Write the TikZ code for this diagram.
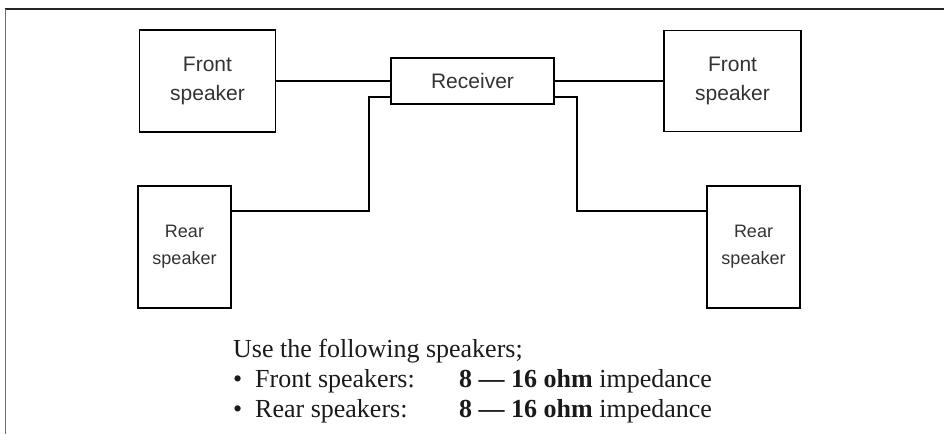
\documentclass[tikz,border=0pt]{standalone}
\usepackage{fontspec}
\setmainfont{Liberation Serif}
\newfontfamily\boxfont{Liberation Sans}
\definecolor{boxtext}{HTML}{333333}
\definecolor{bodytext}{HTML}{1A1A1A}
\definecolor{framegray}{HTML}{6E6E6E}
\begin{document}
\begin{tikzpicture}[x=1pt,y=-1pt,
  spk/.style={draw=black,line width=1.5pt,rectangle,inner sep=0pt,align=center,text=boxtext},
  bigbox/.style={spk,font=\boxfont\fontsize{21}{29}\selectfont},
  smallbox/.style={spk,font=\boxfont\fontsize{18}{27}\selectfont},
  wire/.style={draw=black,line width=1.4pt},
  note/.style={anchor=base west,inner sep=0pt,text=bodytext,font=\fontsize{26}{30}\selectfont}]
\useasboundingbox (0,0) rectangle (944,434);
% frame
\draw[line width=1.6pt,black!85] (4.5,9) -- (944,9);
\draw[line width=1.6pt,framegray] (5.5,9) -- (5.5,434);
% boxes
\node[bigbox,minimum width=136pt,minimum height=102pt] (fl) at (207.5,81) {Front\\speaker};
\node[bigbox,minimum width=137pt,minimum height=101pt] (fr) at (732.5,81) {Front\\speaker};
\node[smallbox,minimum width=93pt,minimum height=122pt] (rl) at (184.5,247) {Rear\\speaker};
\node[smallbox,minimum width=93pt,minimum height=122pt] (rr) at (753.5,247) {Rear\\speaker};
\node[bigbox,minimum width=163pt,minimum height=46pt] (rcv) at (472.5,81) {Receiver};
% wires
\coordinate (lj) at (369,97);
\coordinate (rj) at (577,97);
\draw[wire] (fl.east) -- (rcv.west);
\draw[wire] (fr.west) -- (rcv.east);
\draw[wire] (rl.east |- 0,211) -| (lj) -- (lj -| rcv.west);
\draw[wire] (rr.west |- 0,211) -| (rj) -- (rj -| rcv.east);
% notes
\node[note] (n0) at (233,357) {Use the following speakers;};
\node[note] (b1) at (233,387) {\textbullet};
\node[note] (l1) at (255,387) {Front speakers:};
\node[note] (v1) at (459,387) {\textbf{8 — 16 ohm} impedance};
\node[note] (b2) at (233,417) {\textbullet};
\node[note] (l2) at (255,417) {Rear speakers:};
\node[note] (v2) at (459,417) {\textbf{8 — 16 ohm} impedance};
\end{tikzpicture}
\end{document}
